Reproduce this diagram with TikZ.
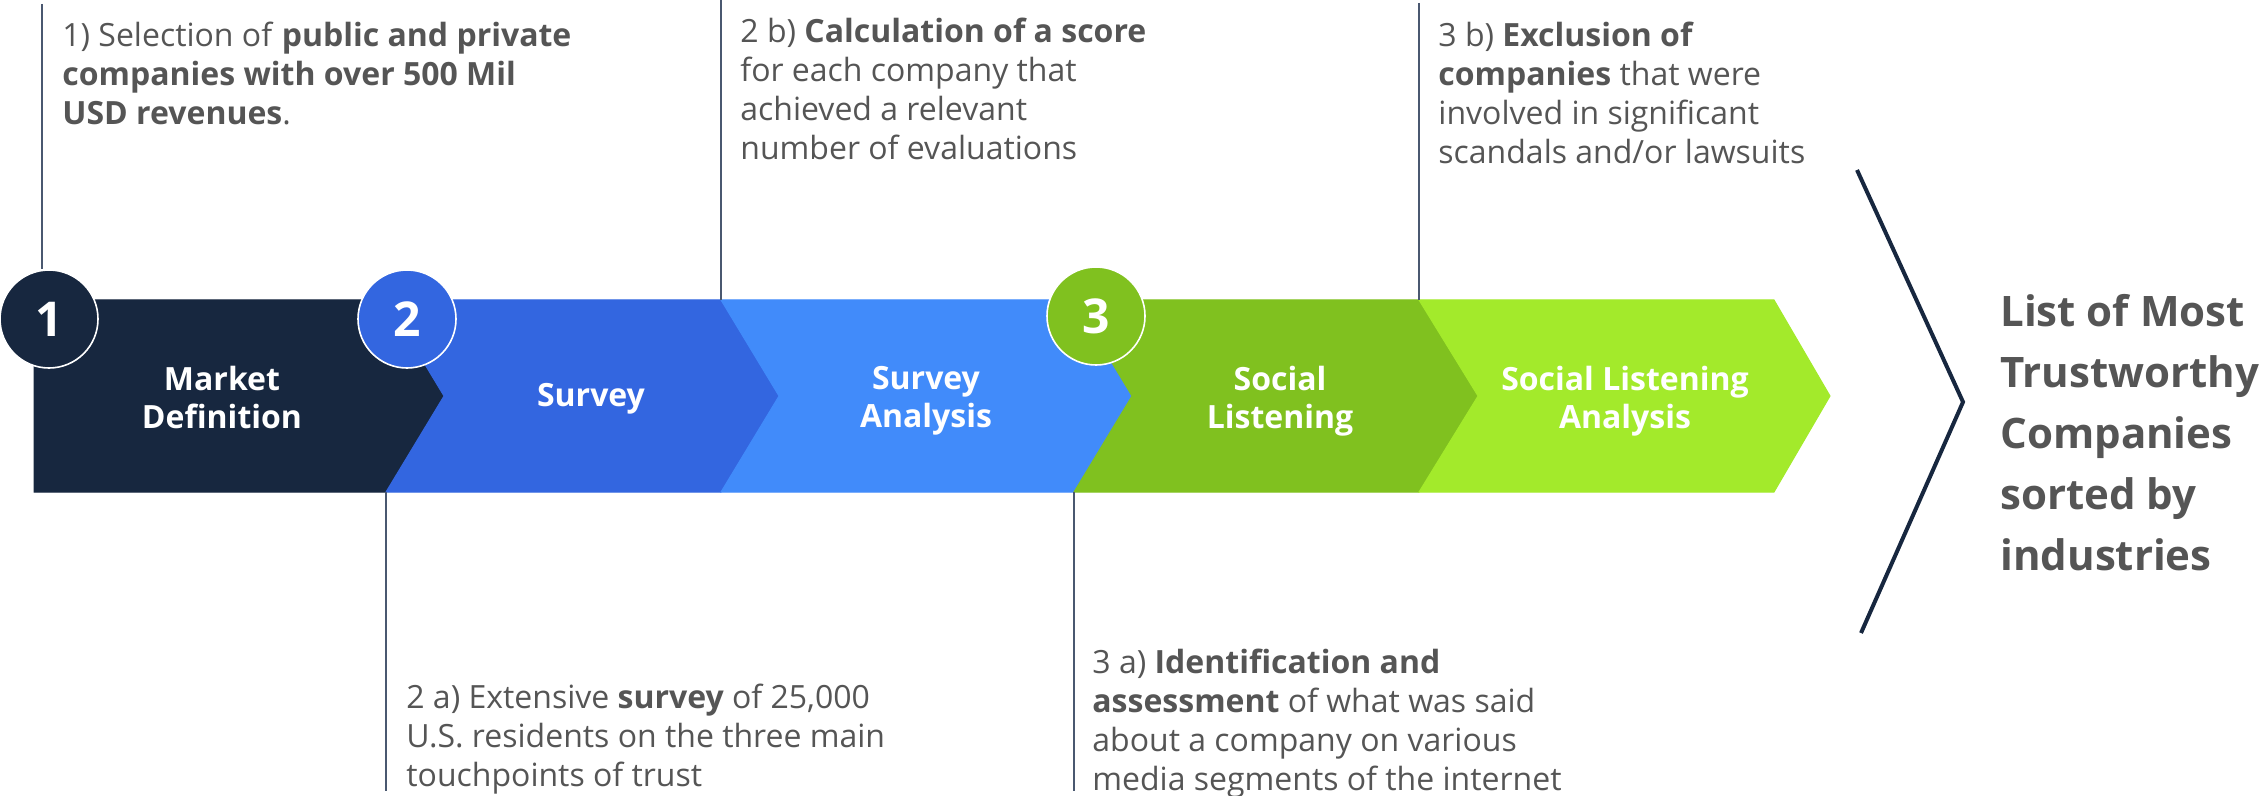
\documentclass[tikz,border=0pt]{standalone}
\usepackage{fontspec}
\setmainfont{Open Sans}
\usepackage{tikz}
\usetikzlibrary{calc,positioning}

\definecolor{navy}{HTML}{17273F}
\definecolor{surveyblue}{HTML}{3366E0}
\definecolor{skyblue}{HTML}{418BFA}
\definecolor{leafgreen}{HTML}{80C11F}
\definecolor{limegreen}{HTML}{A3EA2B}
\definecolor{txtgray}{HTML}{555555}
\definecolor{guidegray}{HTML}{4A5870}

\begin{document}
\begin{tikzpicture}[x=0.5pt, y=-0.5pt,
chev/.style = {fill=#1, draw=#1, line width=0.5pt},
note/.style = {anchor=north west, inner sep=0pt, align=left, text=txtgray, font=\fontsize{16}{19.5}\selectfont},
steplabel/.style = {align=center, inner sep=0pt, text=white, font=\fontsize{16}{19}\selectfont\bfseries},
badge/.style = {circle, fill=#1, draw=white, line width=0.8pt, minimum size=49pt, inner sep=0pt, text=white, font=\fontsize{24}{24}\selectfont\bfseries},
guide/.style = {draw=guidegray, line width=0.7pt},
result/.style = {anchor=north west, inner sep=0pt, align=left, text=txtgray, font=\fontsize{21}{30.5}\selectfont\bfseries},
                    ]
    \useasboundingbox (0,0) rectangle (2262,796);
    % joints of the band
    \coordinate (j1t) at (386,300);  \coordinate (j1b) at (386,492);  \coordinate (tip1) at (444,396);
    \coordinate (j2t) at (721,300);  \coordinate (j2b) at (721,492);  \coordinate (tip2) at (779,396);
    \coordinate (j3t) at (1074,300); \coordinate (j3b) at (1074,492); \coordinate (tip3) at (1132,396);
    \coordinate (j4t) at (1419,300); \coordinate (j4b) at (1419,492); \coordinate (tip4) at (1478,396);
    \coordinate (j5t) at (1774,300); \coordinate (j5b) at (1774,492); \coordinate (tip5) at (1830,396);
    \path[chev=navy]       (34,300) -- (j1t) -- (tip1) -- (j1b) -- (34,492) -- cycle;
    \path[chev=surveyblue] (j1t) -- (j2t) -- (tip2) -- (j2b) -- (j1b) -- (tip1) -- cycle;
    \path[chev=skyblue]    (j2t) -- (j3t) -- (tip3) -- (j3b) -- (j2b) -- (tip2) -- cycle;
    \path[chev=leafgreen]  (j3t) -- (j4t) -- (tip4) -- (j4b) -- (j3b) -- (tip3) -- cycle;
    \path[chev=limegreen]  (j4t) -- (j5t) -- (tip5) -- (j5b) -- (j4b) -- (tip4) -- cycle;

    \node [steplabel] (market)   at (222,397)  {Market\\Definition};
    \node [steplabel] (survey)   at (591,399)  {Survey};
    \node [steplabel] (analysis) at (926,401)  {Survey\\Analysis};
    \node [steplabel] (social)   at (1280,401) {Social\\Listening};
    \node [steplabel] (slanalysis) at (1625,401) {Social Listening\\Analysis};

    \node [badge=navy]       (c1) at (49,319)   {1};
    \node [badge=surveyblue] (c2) at (407,319)  {2};
    \node [badge=leafgreen]  (c3) at (1096,316) {3};

    % notes and their guide lines
    \coordinate (t1)  at (42,4);
    \coordinate (t2b) at (721,0);
    \coordinate (t3b) at (1419,3);
    \coordinate (b2a) at (386,791);
    \coordinate (b3a) at (1074,791);
    \node [note] (n1)  at (62,22)   {1) Selection of \textbf{public and private}\\\textbf{companies with over 500 Mil}\\\textbf{USD revenues}.};
    \node [note] (n2b) at (740,18)  {2 b) \textbf{Calculation of a score}\\for each company that\\achieved a relevant\\number of evaluations};
    \node [note] (n3b) at (1438,22) {3 b) \textbf{Exclusion of}\\\textbf{companies} that were\\involved in significant\\scandals and/or lawsuits};
    \node [note] (n2a) at (406,684) {2 a) Extensive \textbf{survey} of 25,000\\U.S. residents on the three main\\touchpoints of trust};
    \node [note] (n3a) at (1092,649) {3 a) \textbf{Identification and}\\\textbf{assessment} of what was said\\about a company on various\\media segments of the internet};
    \draw[guide] (t1) -- (t1 |- c1.north);
    \draw[guide] (t2b) -- (j2t);
    \draw[guide] (t3b) -- (j4t);
    \draw[guide] (j1b) -- (b2a);
    \draw[guide] (j3b) -- (b3a);

    % outcome
    \coordinate (r1) at (1857,170);
    \coordinate (r2) at (1963,402);
    \coordinate (r3) at (1861,633);
    \draw[navy, line width=2pt] (r1) -- (r2) -- (r3);
    \node [result] (list) at (2000,294) {List of Most\\Trustworthy\\Companies\\sorted by\\industries};
\end{tikzpicture}
\end{document}
